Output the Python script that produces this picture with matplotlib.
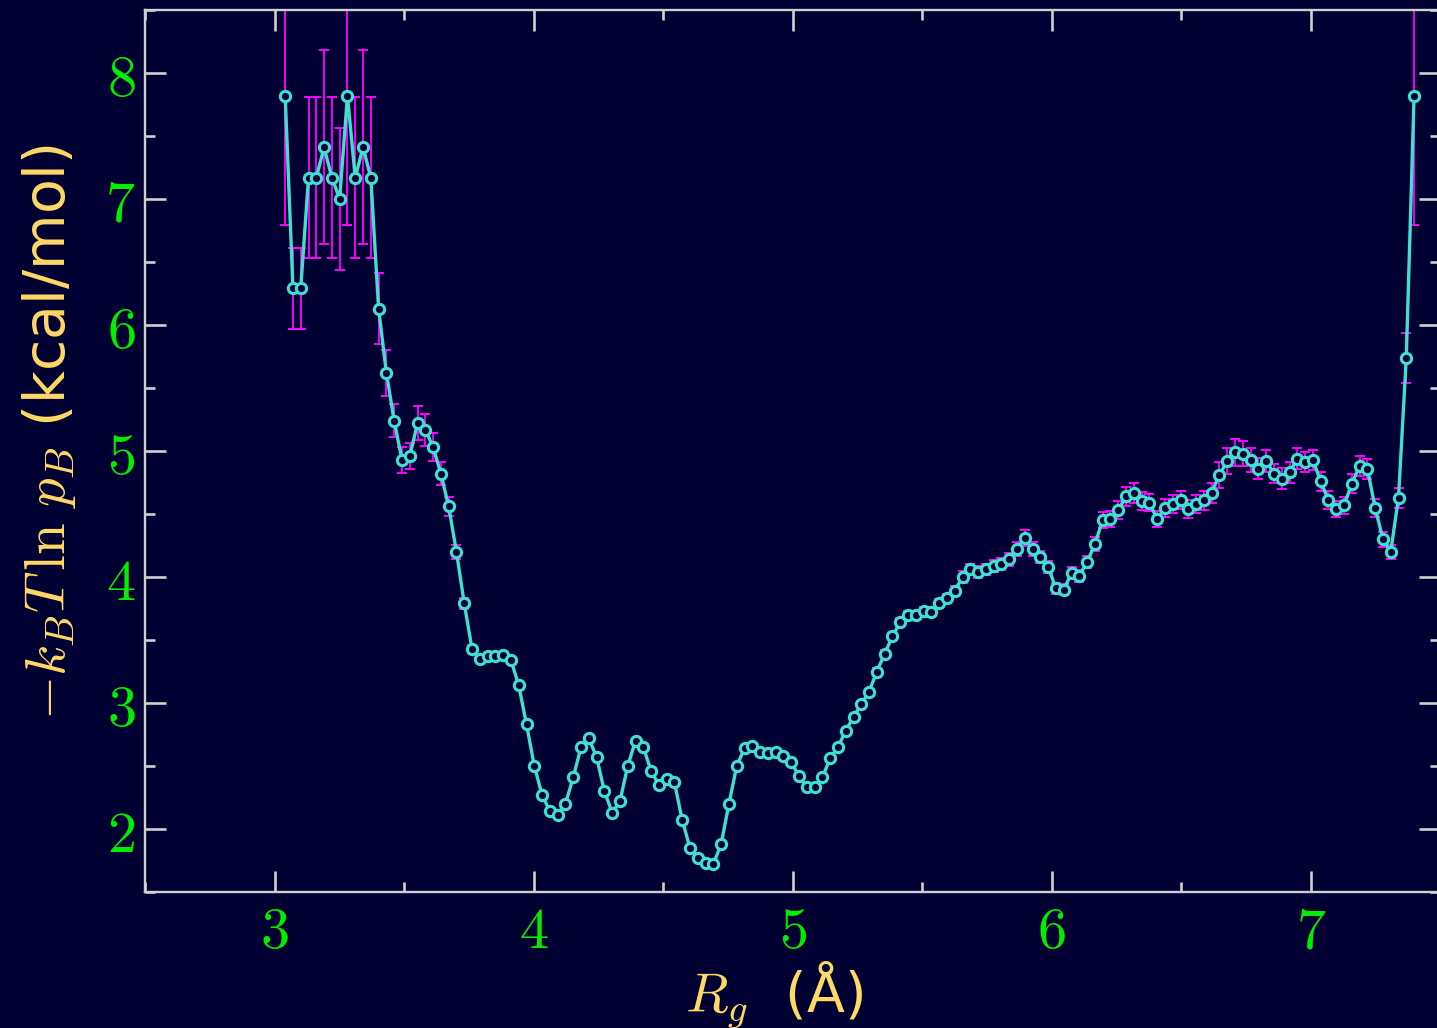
import numpy as np
import matplotlib
matplotlib.use("Agg")
import matplotlib.pyplot as plt
from matplotlib.ticker import MultipleLocator, FuncFormatter

# Radius-of-gyration bin centres (Å): regular grid from first to last bin
rg_first, rg_last, n_bins = 3.041, 7.398, 146
rg = np.linspace(rg_first, rg_last, n_bins)

# Free energy -kT ln p_B (kcal/mol) per bin
free_energy = [
    7.82, 6.29, 6.29, 7.17, 7.17, 7.41, 7.17, 7.00, 7.82, 7.17,
    7.41, 7.17, 6.13, 5.62, 5.24, 4.93, 4.96, 5.22, 5.17, 5.03,
    4.82, 4.56, 4.20, 3.79, 3.43, 3.35, 3.37, 3.37, 3.38, 3.34,
    3.14, 2.83, 2.50, 2.27, 2.14, 2.11, 2.20, 2.41, 2.65, 2.72,
    2.57, 2.30, 2.13, 2.22, 2.50, 2.70, 2.65, 2.46, 2.35, 2.40,
    2.37, 2.07, 1.85, 1.77, 1.73, 1.72, 1.88, 2.20, 2.50, 2.64,
    2.66, 2.61, 2.60, 2.61, 2.58, 2.53, 2.42, 2.33, 2.33, 2.41,
    2.56, 2.65, 2.78, 2.89, 2.99, 3.09, 3.25, 3.39, 3.53, 3.64,
    3.70, 3.70, 3.73, 3.72, 3.79, 3.83, 3.89, 4.00, 4.06, 4.04,
    4.06, 4.09, 4.10, 4.14, 4.22, 4.31, 4.22, 4.16, 4.08, 3.91,
    3.90, 4.03, 4.01, 4.12, 4.26, 4.45, 4.46, 4.53, 4.64, 4.67,
    4.60, 4.59, 4.46, 4.55, 4.58, 4.61, 4.54, 4.58, 4.61, 4.67,
    4.81, 4.92, 4.99, 4.98, 4.93, 4.86, 4.92, 4.82, 4.78, 4.83,
    4.94, 4.91, 4.93, 4.76, 4.61, 4.54, 4.57, 4.74, 4.88, 4.86,
    4.55, 4.30, 4.20, 4.63, 5.74, 7.82,
]

# Statistical uncertainty of each bin (kcal/mol)
free_energy_err = [
    1.03, 0.32, 0.32, 0.64, 0.64, 0.77, 0.64, 0.565, 1.03, 0.64,
    0.77, 0.64, 0.28, 0.185, 0.13, 0.105, 0.105, 0.135, 0.127, 0.11,
    0.09, 0.074, 0.055, 0.04, 0.03, 0.028, 0.028, 0.028, 0.028, 0.028,
    0.025, 0.02, 0.018, 0.016, 0.015, 0.015, 0.015, 0.016, 0.018, 0.018,
    0.017, 0.016, 0.015, 0.015, 0.017, 0.018, 0.018, 0.017, 0.016, 0.016,
    0.016, 0.015, 0.014, 0.014, 0.014, 0.014, 0.014, 0.015, 0.017, 0.018,
    0.018, 0.018, 0.018, 0.018, 0.018, 0.017, 0.017, 0.016, 0.016, 0.017,
    0.017, 0.018, 0.019, 0.02, 0.021, 0.022, 0.025, 0.027, 0.029, 0.031,
    0.033, 0.033, 0.034, 0.034, 0.036, 0.037, 0.04, 0.044, 0.046, 0.045,
    0.046, 0.047, 0.048, 0.05, 0.055, 0.063, 0.055, 0.05, 0.047, 0.042,
    0.042, 0.046, 0.046, 0.05, 0.055, 0.065, 0.066, 0.07, 0.075, 0.08,
    0.072, 0.07, 0.066, 0.07, 0.072, 0.074, 0.07, 0.072, 0.075, 0.08,
    0.1, 0.1, 0.106, 0.1, 0.095, 0.085, 0.09, 0.075, 0.085, 0.08,
    0.08, 0.08, 0.08, 0.075, 0.07, 0.065, 0.068, 0.075, 0.08, 0.08,
    0.07, 0.06, 0.057, 0.08, 0.2, 1.03,
]

x_ticks = [3, 4, 5, 6, 7]
y_ticks = [2, 3, 4, 5, 6, 7, 8]

BG = "#000033"
AXIS = "#D0D0D0"
LINE = "#40E0D0"
ERR = "#FF00FF"
TICKLBL = "#00EE00"
LABEL = "#FFD966"

plt.rcParams["mathtext.fontset"] = "cm"
plt.rcParams["font.family"] = ["DejaVu Sans"]

fig = plt.figure(figsize=(14.37, 10.28), dpi=100, facecolor=BG)
W, H = 1437, 1028
ax = fig.add_axes([145 / W, (H - 892) / H, (1440.5 - 145) / W, (892 - 10) / H])
ax.set_facecolor(BG)

ax.errorbar(rg, free_energy, yerr=free_energy_err, fmt="none",
            ecolor=ERR, elinewidth=1.3, capsize=3.8, capthick=1.4, zorder=2)
ax.plot(rg, free_energy, "-o", color=LINE, lw=2.4, ms=7.4, mew=2.2,
        mfc=BG, mec=LINE, zorder=3)

ax.set_xlim(2.5, 7.5)
ax.set_ylim(1.5, 8.5)
ax.set_xticks(x_ticks)
ax.set_yticks(y_ticks)
ax.xaxis.set_minor_locator(MultipleLocator(0.5))
ax.yaxis.set_minor_locator(MultipleLocator(0.5))
fmt = FuncFormatter(lambda v, p: f"${v:g}$")
ax.xaxis.set_major_formatter(fmt)
ax.yaxis.set_major_formatter(fmt)

for s in ax.spines.values():
    s.set_color(AXIS)
    s.set_linewidth(1.7)

ax.tick_params(which="both", direction="in", top=True, right=True,
               color=AXIS, width=1.9)
ax.tick_params(which="major", length=15, labelsize=42, labelcolor=TICKLBL)
ax.tick_params(which="minor", length=7.2)
ax.tick_params(axis="x", which="major", pad=8)
ax.tick_params(axis="y", which="major", pad=7)

ax.set_xlabel(r"$R_g$  (Å)", fontsize=40, color=LABEL)
ax.xaxis.set_label_coords(0.4855, -0.077)
ax.set_ylabel(r"$-k_B T \,\ln\, p_B$ (kcal/mol)", fontsize=41, color=LABEL)
ax.yaxis.set_label_coords(-0.0517, 0.521)

fig.savefig("out.png", dpi=100, facecolor=BG)
